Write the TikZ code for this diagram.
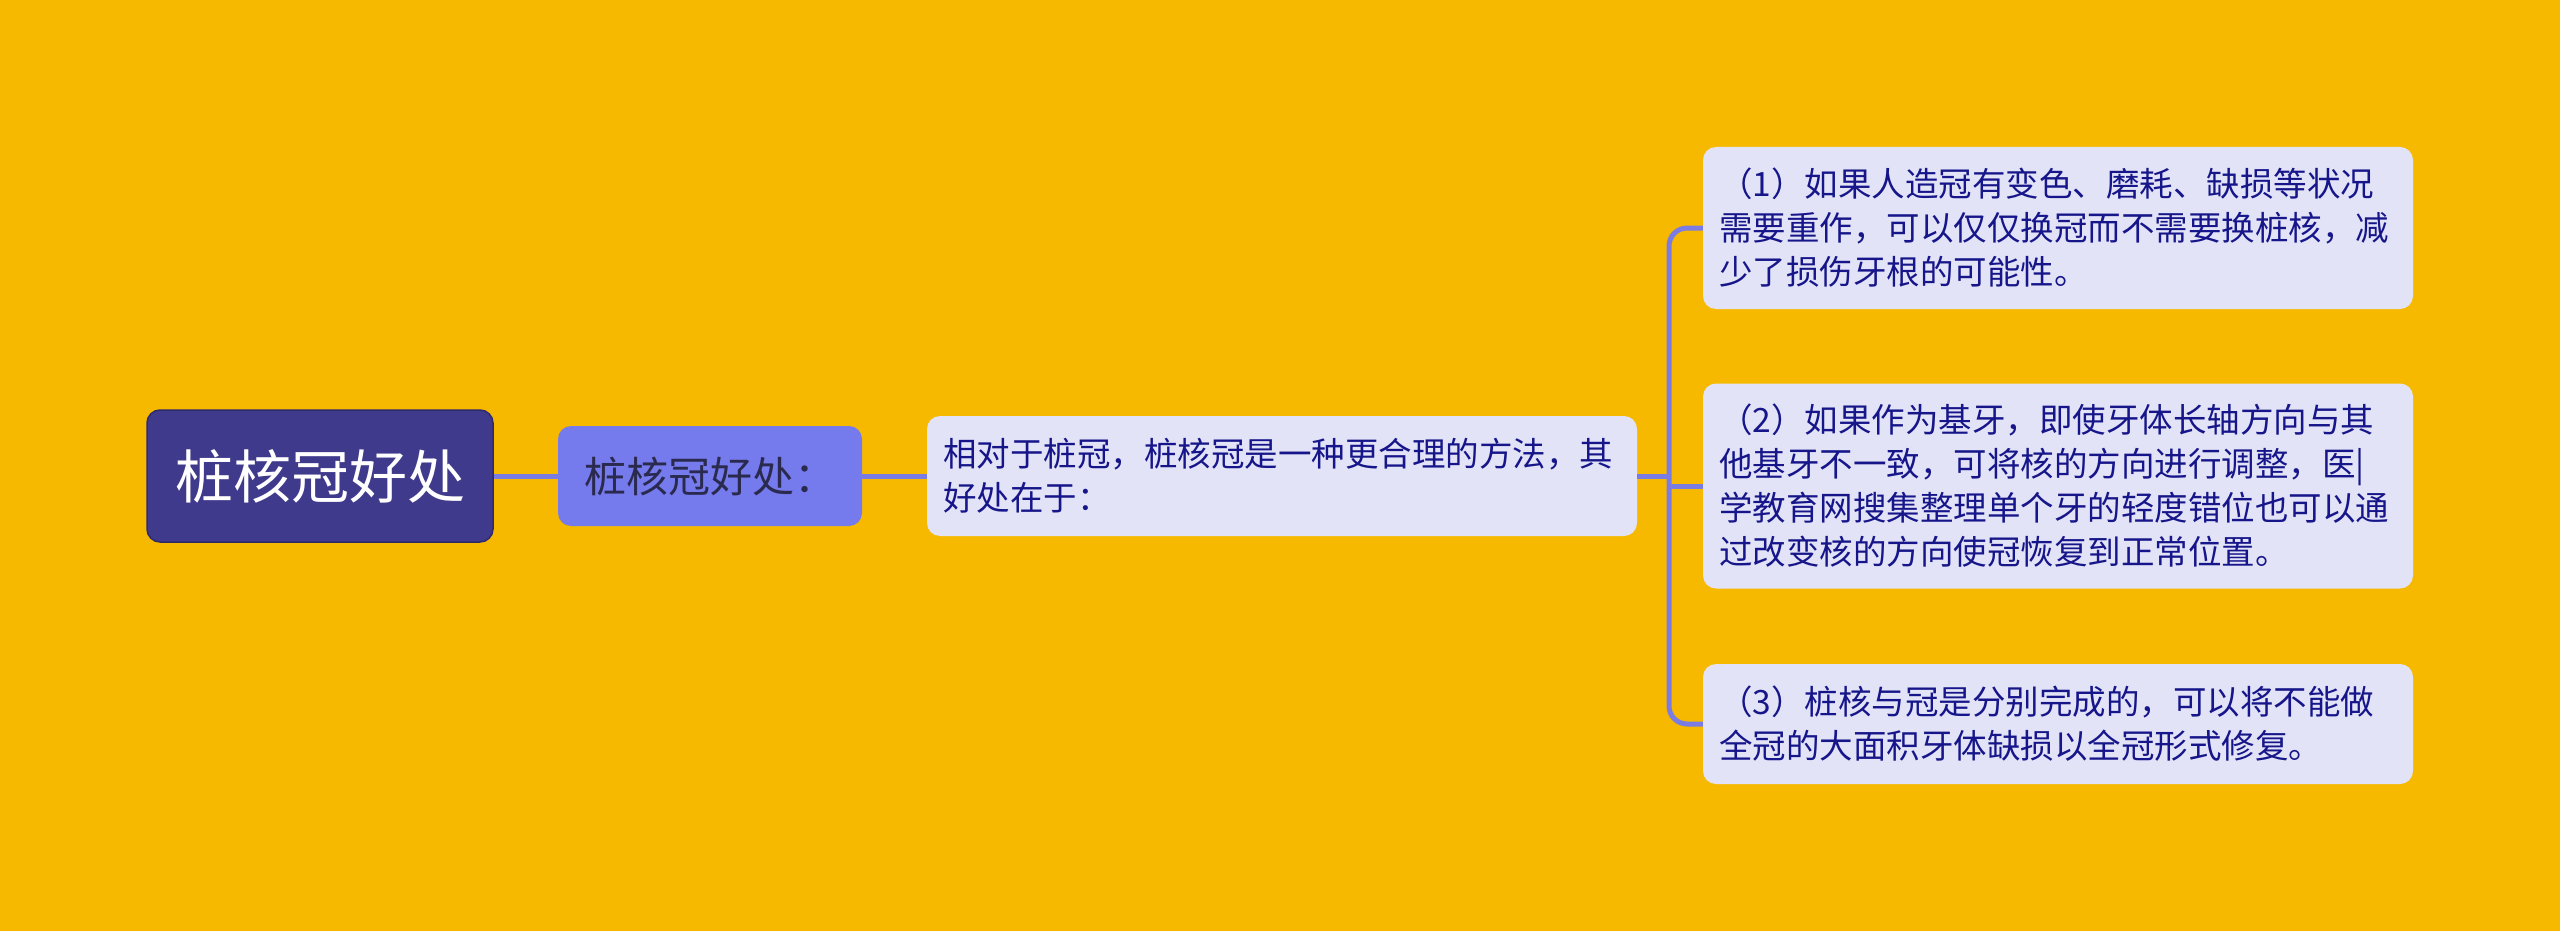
\documentclass[tikz,border=0pt]{standalone}
\usepackage{fontspec}
\newfontfamily\cjk{Noto Sans CJK SC}
\definecolor{bg}{HTML}{F6B900}
\definecolor{rootfill}{HTML}{3F3A8C}
\definecolor{rootline}{HTML}{2E2A6E}
\definecolor{lonefill}{HTML}{757AEC}
\definecolor{ltwofill}{HTML}{E3E3F8}
\definecolor{ltext}{HTML}{16168A}
\definecolor{onetext}{HTML}{2A2A4E}
\definecolor{conn}{HTML}{7A7BE3}
\tikzset{
  rootbox/.style={fill=rootfill, draw=rootline, line width=1.5pt, rounded corners=13pt, text=white,
    minimum width=346pt, minimum height=132pt, inner sep=0pt, font=\cjk\fontsize{58}{70}\selectfont},
  onebox/.style={fill=lonefill, rounded corners=13pt, text=onetext,
    minimum width=304pt, minimum height=100pt, inner sep=0pt, font=\cjk\fontsize{42}{52}\selectfont},
  leafbox/.style={fill=ltwofill, rounded corners=13pt, text=ltext, align=left,
    text width=678pt, inner xsep=16pt, inner ysep=0pt, font=\cjk\fontsize{33.5}{44}\selectfont},
  link/.style={draw=conn, line width=5pt},
}
\begin{document}
\begin{tikzpicture}[x=1pt,y=-1pt]
\fill[bg] (0,0) rectangle (2560,931);
\useasboundingbox (0,0) rectangle (2560,931);
\node[rootbox] (root) at (320,476) {桩核冠好处};
\node[onebox] (lone) at (710,476) {桩核冠好处：};
\node[leafbox, minimum height=120pt] (ltwo) at (1282,476) {相对于桩冠，桩核冠是一种更合理的方法，其\\好处在于：};
\node[leafbox, minimum height=162pt] (leafa) at (2058,228) {（1）如果人造冠有变色、磨耗、缺损等状况\\需要重作，可以仅仅换冠而不需要换桩核，减\\少了损伤牙根的可能性。};
\node[leafbox, minimum height=205pt] (leafb) at (2058,486) {（2）如果作为基牙，即使牙体长轴方向与其\\他基牙不一致，可将核的方向进行调整，医|\\学教育网搜集整理单个牙的轻度错位也可以通\\过改变核的方向使冠恢复到正常位置。};
\node[leafbox, minimum height=120pt] (leafc) at (2058,724) {（3）桩核与冠是分别完成的，可以将不能做\\全冠的大面积牙体缺损以全冠形式修复。};
\coordinate (spine) at (1669,476);
\begin{scope}[on background layer/.style={}]
\draw[link] (root.east) -- (lone.west);
\draw[link] (lone.east) -- (ltwo.west);
\draw[link] (ltwo.east) -- (spine);
\draw[link, rounded corners=18pt] (spine) |- (leafa.west);
\draw[link, rounded corners=18pt] (spine) |- (leafc.west);
\draw[link] (spine |- leafb.west) -- (leafb.west);
\end{scope}
\end{tikzpicture}
\end{document}
